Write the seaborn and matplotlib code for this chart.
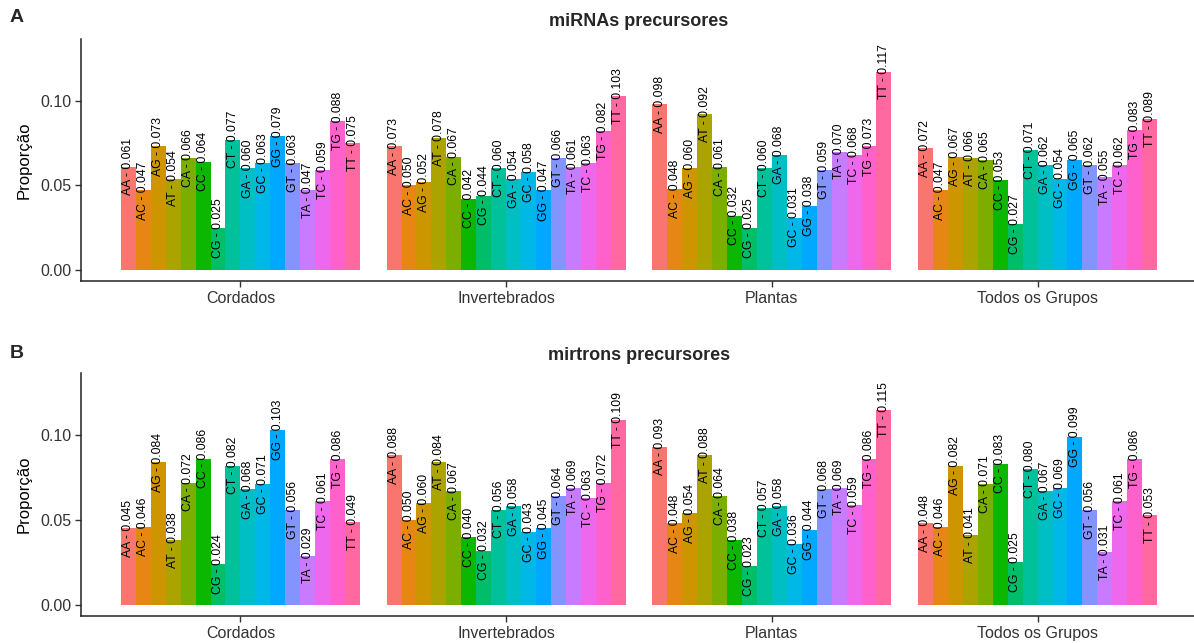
import pandas as pd
import matplotlib.pyplot as plt
import seaborn as sns

# data
groups = ["Cordados", "Invertebrados", "Plantas", "Todos os Grupos"]
dinucs = ["AA", "AC", "AG", "AT", "CA", "CC", "CG", "CT",
          "GA", "GC", "GG", "GT", "TA", "TC", "TG", "TT"]

# A - miRNAs precursores
mirna_cordados = [0.061, 0.047, 0.073, 0.054, 0.066, 0.064, 0.025, 0.077,
                  0.060, 0.063, 0.079, 0.063, 0.047, 0.059, 0.088, 0.075]
mirna_invert = [0.073, 0.050, 0.052, 0.078, 0.067, 0.042, 0.044, 0.060,
                0.054, 0.058, 0.047, 0.066, 0.061, 0.063, 0.082, 0.103]
mirna_plantas = [0.098, 0.048, 0.060, 0.092, 0.061, 0.032, 0.025, 0.060,
                 0.068, 0.031, 0.038, 0.059, 0.070, 0.068, 0.073, 0.117]
mirna_todos = [0.072, 0.047, 0.067, 0.066, 0.065, 0.053, 0.027, 0.071,
               0.062, 0.054, 0.065, 0.062, 0.055, 0.062, 0.083, 0.089]

# B - mirtrons precursores
mirtron_cordados = [0.045, 0.046, 0.084, 0.038, 0.072, 0.086, 0.024, 0.082,
                    0.068, 0.071, 0.103, 0.056, 0.029, 0.061, 0.086, 0.049]
mirtron_invert = [0.088, 0.050, 0.060, 0.084, 0.067, 0.040, 0.032, 0.056,
                  0.058, 0.043, 0.045, 0.064, 0.069, 0.063, 0.072, 0.109]
mirtron_plantas = [0.093, 0.048, 0.054, 0.088, 0.064, 0.038, 0.023, 0.057,
                   0.058, 0.036, 0.044, 0.068, 0.069, 0.059, 0.086, 0.115]
mirtron_todos = [0.048, 0.046, 0.082, 0.041, 0.071, 0.083, 0.025, 0.080,
                 0.067, 0.069, 0.099, 0.056, 0.031, 0.061, 0.086, 0.053]

# ggplot default hue palette for 16 levels
palette = ["#F8766D", "#E68613", "#CD9600", "#ABA300", "#7CAE00", "#0CB702",
           "#00BE67", "#00C19A", "#00BFC4", "#00B8E7", "#00A9FF", "#8494FF",
           "#C77CFF", "#ED68ED", "#FF61CC", "#FF68A1"]


def make_df(series):
    rows = []
    for g, vals in zip(groups, series):
        for d, v in zip(dinucs, vals):
            rows.append({"grupo": g, "dinuc": d, "prop": v})
    return pd.DataFrame(rows)


mirna_df = make_df([mirna_cordados, mirna_invert, mirna_plantas, mirna_todos])
mirtron_df = make_df([mirtron_cordados, mirtron_invert, mirtron_plantas, mirtron_todos])

sns.set_style("ticks")
plt.rcParams["font.family"] = ["Liberation Sans", "DejaVu Sans"]

W, H = 1194, 643
fig = plt.figure(figsize=(W / 100, H / 100), dpi=100)
ax_a = fig.add_axes([81 / W, 1 - 281 / H, (1197 - 81) / W, 242 / H])
ax_b = fig.add_axes([81 / W, 1 - 616 / H, (1197 - 81) / W, 243 / H])


def draw_panel(ax, df, title):
    sns.barplot(data=df, x="grupo", y="prop", hue="dinuc", order=groups,
                hue_order=dinucs, palette=palette, width=0.9, saturation=1,
                errorbar=None, linewidth=0, legend=False, ax=ax)
    # labels centred on each bar top, rotated
    for cont, d in zip(ax.containers, dinucs):
        for bar in cont:
            h = bar.get_height()
            ax.text(bar.get_x() + bar.get_width() / 2, h,
                    f"{d} - {h:.3f}", rotation=90, ha="center", va="center",
                    fontsize=8.8, color="black")
    ax.set_xlim(-0.6, 3.6)
    ax.set_ylim(-0.0065, 0.1365)
    ax.set_yticks([0.0, 0.05, 0.10])
    ax.set_yticklabels(["0.00", "0.05", "0.10"])
    ax.set_xlabel("")
    ax.set_ylabel("Proporção", fontsize=12, color="black", labelpad=6)
    ax.set_title(title, fontsize=13, fontweight="bold", pad=9)
    sns.despine(ax=ax)
    for s in ["left", "bottom"]:
        ax.spines[s].set_color("#222222")
        ax.spines[s].set_linewidth(1.1)
    ax.tick_params(axis="both", direction="out", length=4, width=1,
                   color="#333333", labelsize=11.5, labelcolor="#333333", pad=3)


draw_panel(ax_a, mirna_df, "miRNAs precursores")
draw_panel(ax_b, mirtron_df, "mirtrons precursores")

fig.text(10 / W, 1 - 17 / H, "A", fontsize=14, fontweight="bold", va="center")
fig.text(10 / W, 1 - 353 / H, "B", fontsize=14, fontweight="bold", va="center")

fig.savefig("out.png", dpi=100)
